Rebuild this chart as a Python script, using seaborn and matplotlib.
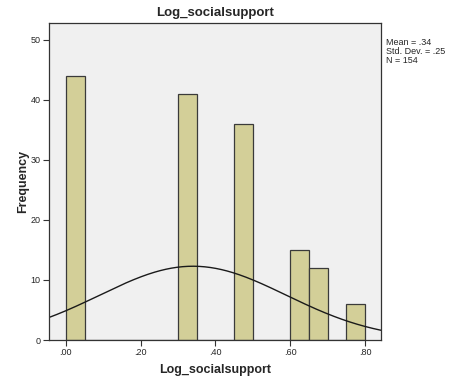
import numpy as np
import pandas as pd
import matplotlib
matplotlib.use("Agg")
import matplotlib.pyplot as plt
import seaborn as sns

# Data
bin_left = [0.00, 0.30, 0.45, 0.60, 0.65, 0.75]
counts = [44, 41, 36, 15, 12, 6]
bin_width = 0.05
mean_val = 0.34
std_val = 0.25
n_val = 154
x_ticks = [0.0, 0.2, 0.4, 0.6, 0.8]
x_tick_labels = [".00", ".20", ".40", ".60", ".80"]
y_ticks = [0, 10, 20, 30, 40, 50]

sns.set_style("ticks")
plt.rcParams['font.family'] = ['Liberation Sans', 'DejaVu Sans']

fig = plt.figure(figsize=(4.52, 3.81), dpi=100)
ax = fig.add_axes([49/452, 41/381, 332/452, 317/381])
ax.set_facecolor("#F0F0F0")

df = pd.DataFrame({"x": np.array(bin_left) + bin_width / 2, "w": counts})
sns.histplot(data=df, x="x", weights="w", binwidth=bin_width, binrange=(0.0, 0.80),
             color="#D3CF98", edgecolor="#3A3A3A", linewidth=0.9, alpha=1.0, ax=ax)

xs = np.linspace(-0.045, 0.845, 300)
ys = n_val * bin_width / (std_val * np.sqrt(2 * np.pi)) * np.exp(-0.5 * ((xs - mean_val) / std_val) ** 2)
sns.lineplot(x=xs, y=ys, color="#1A1A1A", linewidth=1.0, ax=ax)

ax.set_xlim(-0.045, 0.843)
ax.set_ylim(0, 52.8)
ax.set_xticks(x_ticks)
ax.set_xticklabels(x_tick_labels)
ax.set_yticks(y_ticks)
ax.tick_params(labelsize=6.5, length=4, width=0.8, color="#333333", pad=2)
for s in ax.spines.values():
    s.set_color("#333333")
    s.set_linewidth(0.9)

ax.set_xlabel("Log_socialsupport", fontsize=9, fontweight="bold", labelpad=5)
ax.set_ylabel("Frequency", fontsize=9, fontweight="bold", labelpad=1)
ax.set_title("Log_socialsupport", fontsize=9.5, fontweight="bold", pad=5)

fig.text(386/452, 1 - 38/381, "Mean = .34\nStd. Dev. = .25\nN = 154",
         fontsize=6.5, va="top", ha="left", linespacing=1.0)

fig.savefig("out.png", dpi=100)
